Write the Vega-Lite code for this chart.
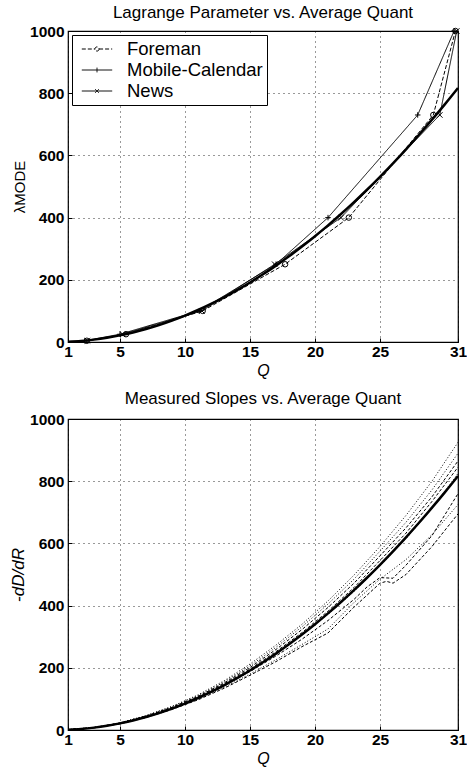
{
  "$schema": "https://vega.github.io/schema/vega-lite/v6.json",
  "padding": {"left": 8, "top": 3, "right": 0, "bottom": 2},
  "spacing": 9,
  "config": {
    "font": "Liberation Sans",
    "view": {"stroke": "black", "strokeWidth": 1.2},
    "axis": {"labelFontSize": 15.5, "labelFontWeight": "bold", "labelColor": "black", "titleFontSize": 16, "titleFontWeight": "normal", "titleColor": "black", "grid": true, "gridColor": "black", "gridDash": [1, 4], "gridWidth": 1, "gridOpacity": 0.8, "domain": false, "ticks": true, "tickSize": -4, "tickColor": "black", "labelFlush": false, "format": "d"},
    "axisX": {"labelPadding": 6, "titlePadding": 3, "titleFontStyle": "italic"},
    "axisY": {"labelPadding": 8, "titlePadding": 2},
    "title": {"fontSize": 17, "fontWeight": "normal", "color": "black"}
  },
  "resolve": {"scale": {"x": "independent", "y": "independent", "strokeDash": "independent"}},
  "datasets": {
    "fit": [
      {"q": 1, "v": 0.85}, {"q": 2, "v": 3.4}, {"q": 3, "v": 7.65}, {"q": 4, "v": 13.6}, {"q": 5, "v": 21.25}, {"q": 6, "v": 30.6}, {"q": 7, "v": 41.65}, {"q": 8, "v": 54.4}, {"q": 9, "v": 68.85}, {"q": 10, "v": 85}, {"q": 11, "v": 102.85}, {"q": 12, "v": 122.4}, {"q": 13, "v": 143.65}, {"q": 14, "v": 166.6}, {"q": 15, "v": 191.25}, {"q": 16, "v": 217.6}, {"q": 17, "v": 245.65}, {"q": 18, "v": 275.4}, {"q": 19, "v": 306.85}, {"q": 20, "v": 340}, {"q": 21, "v": 374.85}, {"q": 22, "v": 411.4}, {"q": 23, "v": 449.65}, {"q": 24, "v": 489.6}, {"q": 25, "v": 531.25}, {"q": 26, "v": 574.6}, {"q": 27, "v": 619.65}, {"q": 28, "v": 666.4}, {"q": 29, "v": 714.85}, {"q": 30, "v": 765}, {"q": 31, "v": 816.85}
    ],
    "lambda": [
      {"s": "Foreman", "q": 2.45, "v": 4}, {"s": "Foreman", "q": 5.46, "v": 25}, {"s": "Foreman", "q": 11.36, "v": 100}, {"s": "Foreman", "q": 17.7, "v": 250}, {"s": "Foreman", "q": 22.6, "v": 400}, {"s": "Foreman", "q": 29.1, "v": 730}, {"s": "Foreman", "q": 30.8, "v": 1000},
      {"s": "Mobile-Calendar", "q": 2.3, "v": 4}, {"s": "Mobile-Calendar", "q": 5.0, "v": 25}, {"s": "Mobile-Calendar", "q": 11.1, "v": 100}, {"s": "Mobile-Calendar", "q": 17.0, "v": 250}, {"s": "Mobile-Calendar", "q": 21.0, "v": 400}, {"s": "Mobile-Calendar", "q": 27.9, "v": 730}, {"s": "Mobile-Calendar", "q": 30.7, "v": 1000},
      {"s": "News", "q": 2.5, "v": 4}, {"s": "News", "q": 5.2, "v": 25}, {"s": "News", "q": 11.3, "v": 100}, {"s": "News", "q": 16.9, "v": 250}, {"s": "News", "q": 22.0, "v": 400}, {"s": "News", "q": 29.6, "v": 730}, {"s": "News", "q": 30.9, "v": 1000}
    ],
    "slopes": [
      {"k": "L1", "q": 1, "v": 1}, {"k": "L1", "q": 3, "v": 8}, {"k": "L1", "q": 5, "v": 23}, {"k": "L1", "q": 7, "v": 46}, {"k": "L1", "q": 9, "v": 76}, {"k": "L1", "q": 11, "v": 113}, {"k": "L1", "q": 13, "v": 158}, {"k": "L1", "q": 15, "v": 212}, {"k": "L1", "q": 17, "v": 273}, {"k": "L1", "q": 19, "v": 340}, {"k": "L1", "q": 21, "v": 415}, {"k": "L1", "q": 23, "v": 498}, {"k": "L1", "q": 25, "v": 590}, {"k": "L1", "q": 27, "v": 690}, {"k": "L1", "q": 29, "v": 800}, {"k": "L1", "q": 31, "v": 925},
      {"k": "L2", "q": 1, "v": 1}, {"k": "L2", "q": 3, "v": 8}, {"k": "L2", "q": 5, "v": 23}, {"k": "L2", "q": 7, "v": 46}, {"k": "L2", "q": 9, "v": 75}, {"k": "L2", "q": 11, "v": 110}, {"k": "L2", "q": 13, "v": 154}, {"k": "L2", "q": 15, "v": 206}, {"k": "L2", "q": 17, "v": 266}, {"k": "L2", "q": 19, "v": 332}, {"k": "L2", "q": 21, "v": 405}, {"k": "L2", "q": 23, "v": 485}, {"k": "L2", "q": 25, "v": 575}, {"k": "L2", "q": 27, "v": 668}, {"k": "L2", "q": 29, "v": 772}, {"k": "L2", "q": 31, "v": 890},
      {"k": "L3", "q": 1, "v": 1}, {"k": "L3", "q": 3, "v": 8}, {"k": "L3", "q": 5, "v": 22}, {"k": "L3", "q": 7, "v": 45}, {"k": "L3", "q": 9, "v": 73}, {"k": "L3", "q": 11, "v": 108}, {"k": "L3", "q": 13, "v": 151}, {"k": "L3", "q": 15, "v": 201}, {"k": "L3", "q": 17, "v": 259}, {"k": "L3", "q": 19, "v": 323}, {"k": "L3", "q": 21, "v": 394}, {"k": "L3", "q": 23, "v": 472}, {"k": "L3", "q": 25, "v": 560}, {"k": "L3", "q": 27, "v": 650}, {"k": "L3", "q": 29, "v": 750}, {"k": "L3", "q": 31, "v": 865},
      {"k": "L4", "q": 1, "v": 1}, {"k": "L4", "q": 3, "v": 8}, {"k": "L4", "q": 5, "v": 22}, {"k": "L4", "q": 7, "v": 44}, {"k": "L4", "q": 9, "v": 72}, {"k": "L4", "q": 11, "v": 106}, {"k": "L4", "q": 13, "v": 148}, {"k": "L4", "q": 15, "v": 196}, {"k": "L4", "q": 17, "v": 252}, {"k": "L4", "q": 19, "v": 313}, {"k": "L4", "q": 21, "v": 382}, {"k": "L4", "q": 23, "v": 458}, {"k": "L4", "q": 25, "v": 545}, {"k": "L4", "q": 27, "v": 633}, {"k": "L4", "q": 29, "v": 735}, {"k": "L4", "q": 31, "v": 845},
      {"k": "L5", "q": 1, "v": 1}, {"k": "L5", "q": 3, "v": 7}, {"k": "L5", "q": 5, "v": 21}, {"k": "L5", "q": 7, "v": 42}, {"k": "L5", "q": 9, "v": 70}, {"k": "L5", "q": 11, "v": 104}, {"k": "L5", "q": 13, "v": 145}, {"k": "L5", "q": 15, "v": 192}, {"k": "L5", "q": 17, "v": 246}, {"k": "L5", "q": 19, "v": 306}, {"k": "L5", "q": 21, "v": 372}, {"k": "L5", "q": 23, "v": 445}, {"k": "L5", "q": 25, "v": 528}, {"k": "L5", "q": 27, "v": 615}, {"k": "L5", "q": 29, "v": 712}, {"k": "L5", "q": 31, "v": 825},
      {"k": "L6", "q": 1, "v": 1}, {"k": "L6", "q": 3, "v": 7}, {"k": "L6", "q": 5, "v": 21}, {"k": "L6", "q": 7, "v": 42}, {"k": "L6", "q": 9, "v": 69}, {"k": "L6", "q": 11, "v": 102}, {"k": "L6", "q": 13, "v": 142}, {"k": "L6", "q": 15, "v": 188}, {"k": "L6", "q": 17, "v": 238}, {"k": "L6", "q": 19, "v": 292}, {"k": "L6", "q": 21, "v": 352}, {"k": "L6", "q": 23, "v": 420}, {"k": "L6", "q": 24, "v": 460}, {"k": "L6", "q": 25, "v": 490}, {"k": "L6", "q": 26, "v": 488}, {"k": "L6", "q": 27, "v": 530}, {"k": "L6", "q": 29, "v": 625}, {"k": "L6", "q": 31, "v": 760},
      {"k": "L7", "q": 1, "v": 1}, {"k": "L7", "q": 3, "v": 7}, {"k": "L7", "q": 5, "v": 20}, {"k": "L7", "q": 7, "v": 41}, {"k": "L7", "q": 9, "v": 67}, {"k": "L7", "q": 11, "v": 99}, {"k": "L7", "q": 13, "v": 137}, {"k": "L7", "q": 15, "v": 180}, {"k": "L7", "q": 17, "v": 226}, {"k": "L7", "q": 19, "v": 275}, {"k": "L7", "q": 21, "v": 325}, {"k": "L7", "q": 23, "v": 410}, {"k": "L7", "q": 25, "v": 485}, {"k": "L7", "q": 27, "v": 548}, {"k": "L7", "q": 29, "v": 628}, {"k": "L7", "q": 31, "v": 725},
      {"k": "L8", "q": 1, "v": 1}, {"k": "L8", "q": 3, "v": 7}, {"k": "L8", "q": 5, "v": 20}, {"k": "L8", "q": 7, "v": 40}, {"k": "L8", "q": 9, "v": 66}, {"k": "L8", "q": 11, "v": 97}, {"k": "L8", "q": 13, "v": 134}, {"k": "L8", "q": 15, "v": 176}, {"k": "L8", "q": 17, "v": 220}, {"k": "L8", "q": 19, "v": 268}, {"k": "L8", "q": 21, "v": 312}, {"k": "L8", "q": 23, "v": 395}, {"k": "L8", "q": 25, "v": 472}, {"k": "L8", "q": 25.5, "v": 478}, {"k": "L8", "q": 26, "v": 472}, {"k": "L8", "q": 27, "v": 500}, {"k": "L8", "q": 29, "v": 590}, {"k": "L8", "q": 31, "v": 695}
    ]
  },
  "vconcat": [
    {
      "width": 390,
      "height": 311,
      "title": {"text": "Lagrange Parameter vs. Average Quant", "offset": 2},
      "layer": [
        {
          "data": {"name": "fit"},
          "mark": {"type": "line", "color": "black", "strokeWidth": 2.5, "interpolate": "monotone"},
          "encoding": {
            "x": {"field": "q", "type": "quantitative", "title": "Q", "scale": {"domain": [1, 31], "nice": false, "zero": false}, "axis": {"values": [1, 5, 10, 15, 20, 25, 31]}},
            "y": {"field": "v", "type": "quantitative", "title": "λMODE", "scale": {"domain": [0, 1000], "nice": false}, "axis": {"values": [0, 200, 400, 600, 800, 1000], "titleFontSize": 15}}
          }
        },
        {
          "data": {"name": "lambda"},
          "mark": {"type": "line", "color": "black", "strokeWidth": 1},
          "encoding": {
            "x": {"field": "q", "type": "quantitative", "title": "Q"},
            "y": {"field": "v", "type": "quantitative", "title": "λMODE"},
            "strokeDash": {
              "field": "s", "type": "nominal",
              "scale": {"domain": ["Foreman", "Mobile-Calendar", "News"], "range": [[4, 2], [1, 0], [1, 0]]},
              "legend": {
                "title": null, "orient": "top-left", "offset": 4,
                "strokeColor": "black", "fillColor": "white", "padding": 4,
                "labelFontSize": 18.5, "labelColor": "black", "labelLimit": 300,
                "symbolSize": 361, "symbolStrokeColor": "black", "symbolStrokeWidth": 1, "symbolFillColor": "transparent",
                "symbolOffset": 11, "labelOffset": 20, "rowPadding": 1,
                "encode": {
                  "symbols": {
                    "update": {
                      "shape": {"signal": "datum.value === 'Foreman' ? 'M-1.6,0H-0.22M0.22,0H1.6M0.22,0A0.22,0.22,0,1,1,-0.22,0A0.22,0.22,0,1,1,0.22,0' : datum.value === 'Mobile-Calendar' ? 'M-1.6,0H1.6M0,-0.25V0.25' : 'M-1.6,0H1.6M-0.2,-0.2L0.2,0.2M-0.2,0.2L0.2,-0.2'"},
                      "stroke": {"value": "black"},
                      "fill": {"value": "transparent"}
                    }
                  }
                }
              }
            }
          }
        },
        {
          "data": {"name": "lambda"},
          "mark": {"type": "point", "filled": false, "color": "black", "size": 30, "strokeWidth": 1, "opacity": 1},
          "encoding": {
            "x": {"field": "q", "type": "quantitative", "title": "Q"},
            "y": {"field": "v", "type": "quantitative", "title": "λMODE"},
            "shape": {
              "field": "s", "type": "nominal",
              "scale": {"domain": ["Foreman", "Mobile-Calendar", "News"], "range": ["circle", "M-1,0H1M0,-1V1", "M-1,-1L1,1M-1,1L1,-1"]},
              "legend": null
            }
          }
        }
      ]
    },
    {
      "width": 390,
      "height": 311,
      "title": {"text": "Measured Slopes vs. Average Quant", "offset": 4},
      "layer": [
        {
          "data": {"name": "slopes"},
          "mark": {"type": "line", "color": "black", "strokeWidth": 1},
          "encoding": {
            "x": {"field": "q", "type": "quantitative", "title": "Q", "scale": {"domain": [1, 31], "nice": false, "zero": false}, "axis": {"values": [1, 5, 10, 15, 20, 25, 31]}},
            "y": {"field": "v", "type": "quantitative", "title": "-dD/dR", "scale": {"domain": [0, 1000], "nice": false}, "axis": {"values": [0, 200, 400, 600, 800, 1000], "titleFontStyle": "italic", "titleFontSize": 17}},
            "strokeDash": {
              "field": "k", "type": "nominal",
              "scale": {"domain": ["L1", "L2", "L3", "L4", "L5", "L6", "L7", "L8"], "range": [[1, 2], [1, 2], [3, 2], [3, 2], [1, 2], [3, 2], [1, 2], [3, 2]]},
              "legend": null
            }
          }
        },
        {
          "data": {"name": "fit"},
          "mark": {"type": "line", "color": "black", "strokeWidth": 2.5, "interpolate": "monotone"},
          "encoding": {
            "x": {"field": "q", "type": "quantitative", "title": "Q"},
            "y": {"field": "v", "type": "quantitative", "title": "-dD/dR"}
          }
        }
      ]
    }
  ]
}
